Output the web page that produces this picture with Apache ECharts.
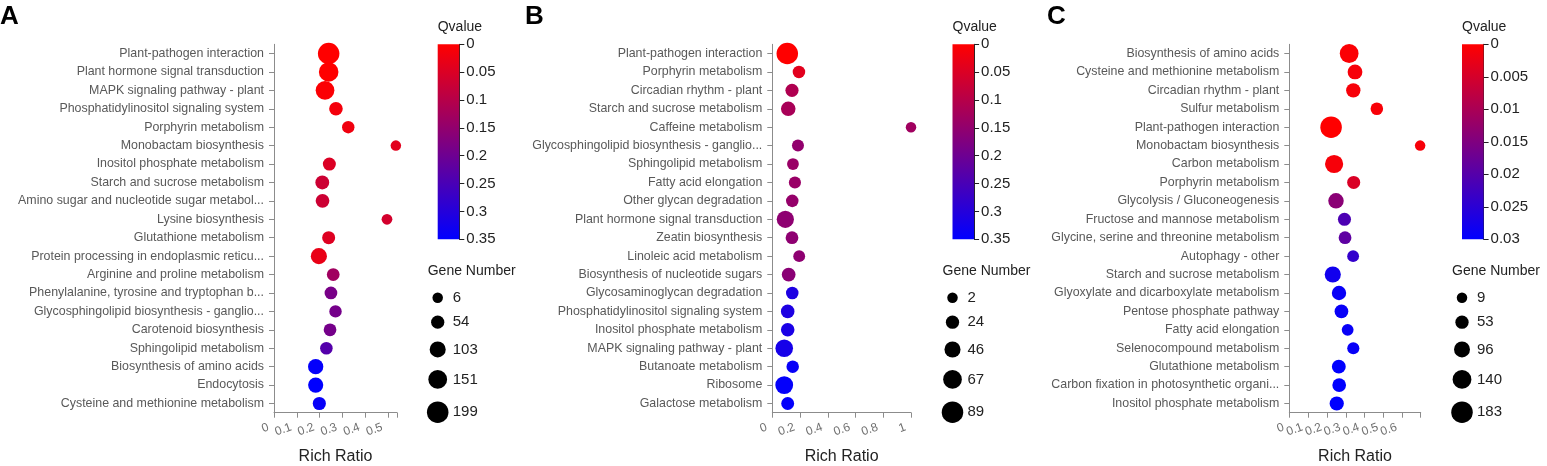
<!DOCTYPE html>
<html><head><meta charset="utf-8">
<script src="https://cdn.jsdelivr.net/npm/echarts@6/dist/echarts.min.js"></script>
<style>html,body{margin:0;padding:0;background:#fff}#c{width:1547px;height:466px}</style>
</head><body><div id="c"></div>
<script>
// ---------- Panel A ----------
const catsA = ['Plant-pathogen interaction','Plant hormone signal transduction','MAPK signaling pathway - plant','Phosphatidylinositol signaling system','Porphyrin metabolism','Monobactam biosynthesis','Inositol phosphate metabolism','Starch and sucrose metabolism','Amino sugar and nucleotide sugar metabol...','Lysine biosynthesis','Glutathione metabolism','Protein processing in endoplasmic reticu...','Arginine and proline metabolism','Phenylalanine, tyrosine and tryptophan b...','Glycosphingolipid biosynthesis - ganglio...','Carotenoid biosynthesis','Sphingolipid metabolism','Biosynthesis of amino acids','Endocytosis','Cysteine and methionine metabolism'];
const richA = [0.24,0.24,0.224,0.272,0.326,0.535,0.243,0.212,0.213,0.496,0.24,0.197,0.26,0.25,0.27,0.246,0.23,0.183,0.183,0.199];
const geneA = [199,165,150,60,40,6,50,65,62,10,50,105,45,45,40,45,42,90,88,52];
const qA = [0,0,0.005,0.015,0.02,0.04,0.05,0.07,0.07,0.06,0.045,0.03,0.13,0.185,0.19,0.19,0.235,0.345,0.35,0.34];
const xTicksA = [0,0.1,0.2,0.3,0.4,0.5];
const qTicksA = [0,0.05,0.1,0.15,0.2,0.25,0.3,0.35];
const sizeLegendA = [6,54,103,151,199];

// ---------- Panel B ----------
const catsB = ['Plant-pathogen interaction','Porphyrin metabolism','Circadian rhythm - plant','Starch and sucrose metabolism','Caffeine metabolism','Glycosphingolipid biosynthesis - ganglio...','Sphingolipid metabolism','Fatty acid elongation','Other glycan degradation','Plant hormone signal transduction','Zeatin biosynthesis','Linoleic acid metabolism','Biosynthesis of nucleotide sugars','Glycosaminoglycan degradation','Phosphatidylinositol signaling system','Inositol phosphate metabolism','MAPK signaling pathway - plant','Butanoate metabolism','Ribosome','Galactose metabolism'];
const richB = [0.108,0.192,0.142,0.115,1.0,0.185,0.149,0.163,0.144,0.094,0.142,0.194,0.118,0.144,0.111,0.111,0.086,0.147,0.086,0.111];
const geneB = [89,18,23,34,2,14,12,15,18,55,20,13,28,18,26,26,58,18,60,21];
const qB = [0,0.04,0.11,0.12,0.13,0.15,0.14,0.14,0.145,0.155,0.155,0.155,0.16,0.31,0.31,0.315,0.32,0.34,0.345,0.345];
const xTicksB = [0,0.2,0.4,0.6,0.8,1];
const qTicksB = [0,0.05,0.1,0.15,0.2,0.25,0.3,0.35];
const sizeLegendB = [2,24,46,67,89];

// ---------- Panel C ----------
const catsC = ['Biosynthesis of amino acids','Cysteine and methionine metabolism','Circadian rhythm - plant','Sulfur metabolism','Plant-pathogen interaction','Monobactam biosynthesis','Carbon metabolism','Porphyrin metabolism','Glycolysis / Gluconeogenesis','Fructose and mannose metabolism','Glycine, serine and threonine metabolism','Autophagy - other','Starch and sucrose metabolism','Glyoxylate and dicarboxylate metabolism','Pentose phosphate pathway','Fatty acid elongation','Selenocompound metabolism','Glutathione metabolism','Carbon fixation in photosynthetic organi...','Inositol phosphate metabolism'];
const richC = [0.318,0.349,0.34,0.465,0.222,0.695,0.238,0.342,0.248,0.293,0.296,0.339,0.231,0.264,0.277,0.31,0.34,0.263,0.265,0.252];
const geneC = [140,77,70,41,183,9,130,50,88,50,45,30,98,70,60,30,35,62,60,68];
const qC = [0.0005,0.001,0.001,0.0008,0,0.001,0.001,0.0043,0.0138,0.021,0.019,0.024,0.028,0.029,0.029,0.029,0.029,0.03,0.03,0.03];
const xTicksC = [0,0.1,0.2,0.3,0.4,0.5,0.6];
const qTicksC = [0,0.005,0.01,0.015,0.02,0.025,0.03];
const sizeLegendC = [9,53,96,140,183];

const FONT = '"Liberation Sans", Arial, sans-serif';
const panels = [
  {letter:'A', cats:catsA, rich:richA, gene:geneA, q:qA, xTicks:xTicksA, xMax:0.54, qTicks:qTicksA, sizes:sizeLegendA, letterX:0,    gridLeft:274,   gridW:123,   barLeft:437.7},
  {letter:'B', cats:catsB, rich:richB, gene:geneB, q:qB, xTicks:xTicksB, xMax:1,    qTicks:qTicksB, sizes:sizeLegendB, letterX:525,  gridLeft:772.3, gridW:138.7, barLeft:952.5},
  {letter:'C', cats:catsC, rich:richC, gene:geneC, q:qC, xTicks:xTicksC, xMax:0.698,qTicks:qTicksC, sizes:sizeLegendC, letterX:1047, gridLeft:1289.3,gridW:131.4, barLeft:1462}
];
const MIN_D = 10.5, MAX_D = 21.5;
const RED = '#ff0000', BLUE = '#0000ff';
function sz(n, s){ const lo=s[0], hi=s[s.length-1]; return MIN_D + (MAX_D-MIN_D)*(n-lo)/(hi-lo); }
function near(v, arr){ return arr.some(t => Math.abs(t - v) < 1e-9); }

const TOP = 44.3, H = 368.4, BAR_W = 21.6, BAR_H = 195;
const grid=[], xAxis=[], yAxis=[], series=[], visualMap=[], title=[];
panels.forEach((p, i) => {
  const g0 = 3*i;
  const qMin = p.qTicks[0], qMax = p.qTicks[p.qTicks.length-1];
  grid.push({left:p.gridLeft, top:TOP, width:p.gridW, height:H, outerBoundsMode:'none', containLabel:false});
  grid.push({left:p.barLeft, top:TOP, width:BAR_W, height:BAR_H, outerBoundsMode:'none', containLabel:false});
  grid.push({left:p.barLeft, top:280, width:10, height:150, outerBoundsMode:'none', containLabel:false});
  // main axes
  xAxis.push({gridIndex:g0, type:'value', min:0, max:p.xMax, interval:p.xTicks[1]-p.xTicks[0],
    name:'Rich Ratio', nameLocation:'middle', nameGap:36,
    nameTextStyle:{fontSize:16, color:'#222', fontFamily:FONT},
    axisLine:{show:true, onZero:false, lineStyle:{color:'#8c8c8c'}},
    axisTick:{show:true, length:5, lineStyle:{color:'#8c8c8c'}},
    splitLine:{show:false},
    axisLabel:{rotate:20, fontSize:12, color:'#707070', fontFamily:FONT, margin:12, padding:[0,6,0,0],
      showMinLabel:true, showMaxLabel:true,
      formatter: v => near(v, p.xTicks) ? String(+v.toFixed(4)) : ''}});
  yAxis.push({gridIndex:g0, type:'category', data:p.cats, inverse:true,
    axisLine:{show:true, lineStyle:{color:'#8c8c8c'}},
    axisTick:{show:true, alignWithLabel:true, length:5, lineStyle:{color:'#8c8c8c'}},
    splitLine:{show:false},
    axisLabel:{fontSize:12.4, color:'#595959', fontFamily:FONT, margin:10, interval:0}});
  // colorbar axes
  xAxis.push({gridIndex:g0+1, type:'category', data:[''], show:false, boundaryGap:true});
  yAxis.push({gridIndex:g0+1, type:'value', position:'right', inverse:true,
    min:qMin, max:qMax, interval:p.qTicks[1]-p.qTicks[0],
    axisLine:{show:true, lineStyle:{color:'#222', width:1}},
    axisTick:{show:true, inside:false, length:5, lineStyle:{color:'#222', width:1}},
    splitLine:{show:false},
    axisLabel:{fontSize:15, color:'#222', fontFamily:FONT, margin:7,
      formatter: v => String(+v.toFixed(4))}});
  // size legend axes (pixel units)
  xAxis.push({gridIndex:g0+2, type:'value', show:false, min:0, max:1});
  yAxis.push({gridIndex:g0+2, type:'value', show:false, min:0, max:150, inverse:true});

  // series 3i: data bubbles
  series.push({type:'scatter', xAxisIndex:g0, yAxisIndex:g0,
    data: p.cats.map((c,j)=>[p.rich[j], c, p.gene[j], p.q[j]]),
    symbolSize: v => sz(v[2], p.sizes), itemStyle:{opacity:1}, emphasis:{disabled:true}});

  // series 3i+1: colour bar (gradient over the Qvalue range)
  series.push({type:'bar', xAxisIndex:g0+1, yAxisIndex:g0+1, data:[qMax], barWidth:'100%', silent:true, z:1,
    itemStyle:{color:new echarts.graphic.LinearGradient(0,0,0,1,[{offset:0,color:RED},{offset:1,color:BLUE}])}});

  // series 3i+2: size legend, stacked with constant gap between circles
  let y = 17.7; const gap = 12.6; const legData = [];
  p.sizes.forEach((s, k) => {
    const d = sz(s, p.sizes);
    if (k > 0) y += (sz(p.sizes[k-1], p.sizes) + d)/2 + gap;
    legData.push({value:[0, y, s], label:{distance: 15 - d/2}});
  });
  series.push({type:'scatter', xAxisIndex:g0+2, yAxisIndex:g0+2, data:legData,
    symbolSize: v => sz(v[2], p.sizes), itemStyle:{color:'#000', opacity:1},
    label:{show:true, position:'right', formatter: o => String(o.value[2]), fontSize:15, color:'#222', fontFamily:FONT},
    emphasis:{disabled:true}});

  visualMap.push({type:'continuous', show:false, seriesIndex:3*i, dimension:3,
    min:qMin, max:qMax, inRange:{color:[RED, BLUE]}});

  title.push({text:p.letter, left:p.letterX, top:4, padding:0,
    textStyle:{fontSize:26, fontWeight:'bold', color:'#000', fontFamily:FONT}});
  title.push({text:'Qvalue', left:p.barLeft, top:20, padding:0,
    textStyle:{fontSize:14, fontWeight:'normal', color:'#222', fontFamily:FONT}});
  title.push({text:'Gene Number', left:p.barLeft-10, top:264, padding:0,
    textStyle:{fontSize:14, fontWeight:'normal', color:'#222', fontFamily:FONT}});
});

const chart = echarts.init(document.getElementById('c'));
chart.setOption({backgroundColor:'#fff', animation:false, textStyle:{fontFamily:FONT},
  title, grid, xAxis, yAxis, series, visualMap, tooltip:{show:false}});
</script></body></html>
